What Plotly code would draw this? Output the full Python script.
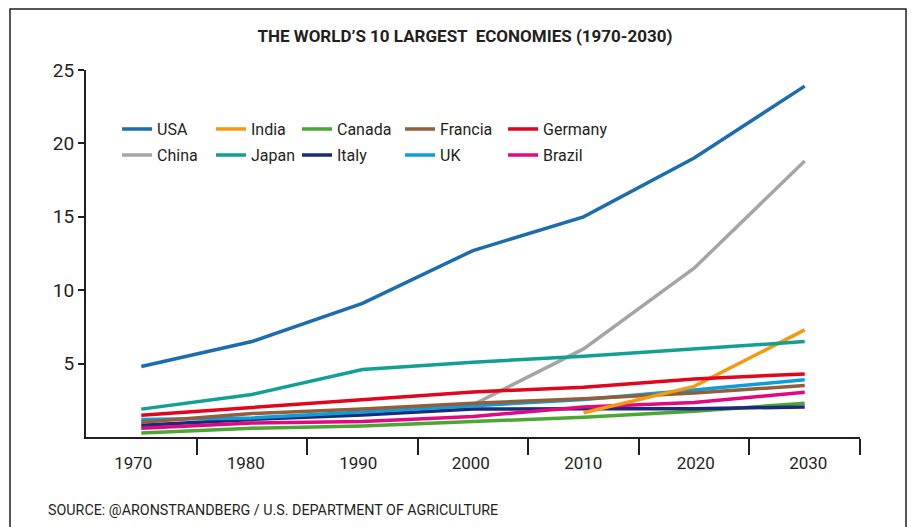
import plotly.graph_objects as go

years = [1970, 1980, 1990, 2000, 2010, 2020, 2030]
usa = [4.8, 6.5, 9.1, 12.7, 15.0, 19.0, 23.9]
china = [None, None, None, 2.2, 6.0, 11.5, 18.8]
india = [None, None, None, None, 1.65, 3.45, 7.3]
japan = [1.9, 2.9, 4.6, 5.1, 5.5, 6.0, 6.5]
canada = [0.28, 0.6, 0.75, 1.05, 1.35, 1.75, 2.3]
italy = [0.8, 1.2, 1.5, 1.9, 1.92, 1.92, 2.05]
francia = [1.0, 1.6, 1.9, 2.3, 2.6, 3.0, 3.5]
uk = [1.2, 1.3, 1.7, 2.1, 2.55, 3.2, 3.9]
germany = [1.48, 2.0, 2.55, 3.07, 3.39, 3.95, 4.3]
brazil = [0.6, 0.95, 1.05, 1.4, 2.05, 2.35, 3.05]

y_ticks = [5, 10, 15, 20, 25]
x_boundaries = [1975, 1985, 1995, 2005, 2015, 2025, 2035]

FONT = "Roboto, Liberation Sans, sans-serif"
INK = "#231F20"

# name, values, colour, legend id  (draw order: bottom to top)
series = [
    ("China", china, "#A5A5A5", "legend6"),
    ("Canada", canada, "#4BA733", "legend3"),
    ("Italy", italy, "#1C2A7C", "legend8"),
    ("Brazil", brazil, "#E2087F", "legend10"),
    ("UK", uk, "#0A9FDC", "legend9"),
    ("Francia", francia, "#935E3A", "legend4"),
    ("India", india, "#F59A0E", "legend2"),
    ("Germany", germany, "#E3051B", "legend5"),
    ("Japan", japan, "#12A095", "legend7"),
    ("USA", usa, "#1B6DB0", "legend"),
]

fig = go.Figure()
for name, vals, col, lg in series:
    fig.add_trace(go.Scatter(
        x=years, y=vals, name=name, mode="lines",
        line=dict(color=col, width=3.5),
        legend=lg, hoverinfo="skip",
    ))

# invisible carrier so the label axis is drawn
fig.add_trace(go.Scatter(
    x=years, y=[None] * len(years), xaxis="x2", yaxis="y",
    mode="lines", showlegend=False, hoverinfo="skip",
))

# legend grid: 5 columns x 2 rows
col_x = [0.0401, 0.1615, 0.2726, 0.4057, 0.5388]
row_y = [0.839, 0.768]
legend_ids = ["legend", "legend2", "legend3", "legend4", "legend5",
              "legend6", "legend7", "legend8", "legend9", "legend10"]
legends = {}
for i, lid in enumerate(legend_ids):
    legends[lid] = dict(
        x=col_x[i % 5], y=row_y[i // 5], xanchor="left", yanchor="middle",
        bgcolor="rgba(0,0,0,0)", borderwidth=0,
        font=dict(family=FONT, size=16, color=INK),
        itemwidth=30,
    )

W, H = 910, 519  # page body has an 8px margin

fig.update_layout(
    width=W, height=H,
    margin=dict(l=78, r=W - 78 - 774, t=62, b=H - 62 - 367),
    paper_bgcolor="white", plot_bgcolor="white",
    title=dict(
        text="<b>THE WORLD’S 10 LARGEST  ECONOMIES (1970-2030)</b>",
        x=457 / W, y=1 - 28 / H, xanchor="center", yanchor="middle",
        font=dict(family=FONT, size=17, color=INK),
    ),
    showlegend=True,
    xaxis=dict(
        range=[1965, 2035], tickmode="array", tickvals=x_boundaries,
        showticklabels=False, ticks="outside", ticklen=16, tickwidth=1.5,
        tickcolor=INK, showline=True, linecolor=INK, linewidth=2,
        showgrid=False, zeroline=False, fixedrange=True,
    ),
    xaxis2=dict(
        overlaying="x", anchor="y", side="bottom",
        range=[1965.8, 2034.6], tickmode="array", tickvals=years,
        ticktext=[str(y) for y in years], ticks="", showline=False,
        showgrid=False, zeroline=False, ticklabelstandoff=14,
        tickfont=dict(family=FONT, size=17, color=INK),
    ),
    yaxis=dict(
        range=[0, 25], tickmode="array", tickvals=y_ticks,
        ticks="outside", ticklen=6, tickwidth=1.5, tickcolor=INK,
        showline=True, linecolor=INK, linewidth=2,
        showgrid=False, zeroline=False,
        tickfont=dict(family=FONT, size=19, color=INK),
    ),
    annotations=[dict(
        text="SOURCE: @ARONSTRANDBERG / U.S. DEPARTMENT OF AGRICULTURE",
        xref="paper", yref="paper", x=(46 - 86) / 774, y=(437 - 510) / 367,
        xanchor="left", yanchor="middle", showarrow=False,
        font=dict(family=FONT, size=14.3, color=INK),
    )],
    shapes=[dict(
        type="rect", xref="paper", yref="paper",
        x0=(10 - 86) / 774, x1=(906 - 86) / 774,
        y0=(437 - 560) / 367, y1=(437 - 9) / 367,
        line=dict(color=INK, width=1.5), fillcolor="rgba(0,0,0,0)",
        layer="below",
    )],
    **legends,
)

fig.write_html("out.html")
